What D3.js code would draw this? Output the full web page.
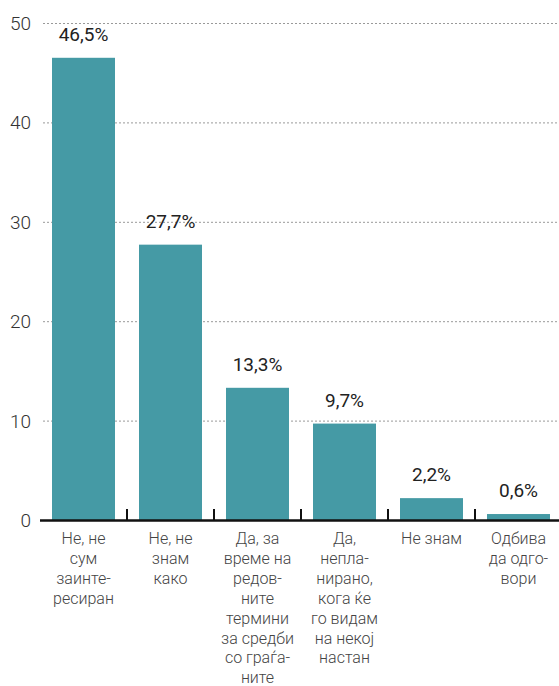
<!DOCTYPE html>
<html>
<head>
<meta charset="utf-8">
<script src="https://cdn.jsdelivr.net/npm/d3@7"></script>
<style>
  body { margin: 0; background: #fff; }
  svg { display: block; font-family: Roboto, sans-serif; }
</style>
</head>
<body>
<div id="chart"></div>
<script>
// data
const categories = [
  ['Не, не', 'сум', 'заинте-', 'ресиран'],
  ['Не, не', 'знам', 'како'],
  ['Да, за', 'време на', 'редов-', 'ните', 'термини', 'за средби', 'со граѓа-', 'ните'],
  ['Да,', 'непла-', 'нирано,', 'кога ќе', 'го видам', 'на некој', 'настан'],
  ['Не знам'],
  ['Одбива', 'да одго-', 'вори']
];
const values = [46.5, 27.7, 13.3, 9.7, 2.2, 0.6];
const valueLabels = ['46,5%', '27,7%', '13,3%', '9,7%', '2,2%', '0,6%'];
const yTicks = [0, 10, 20, 30, 40, 50];

const width = 559, height = 686;
const svg = d3.select('#chart').append('svg')
  .attr('width', width)
  .attr('height', height);

const x = d3.scaleBand()
  .domain(d3.range(values.length))
  .range([40, 562])
  .paddingInner(0.276)
  .paddingOuter(0.138);

const y = d3.scaleLinear()
  .domain([0, 50])
  .range([520, 23]);

// grid
svg.append('g')
  .selectAll('line')
  .data(yTicks.filter(d => d > 0))
  .join('line')
  .attr('x1', 43)
  .attr('x2', width)
  .attr('y1', d => y(d) + 0.5)
  .attr('y2', d => y(d) + 0.5)
  .attr('stroke', '#999')
  .attr('stroke-width', 1)
  .attr('stroke-dasharray', '2,2');

// y tick labels
svg.append('g')
  .selectAll('text')
  .data(yTicks)
  .join('text')
  .attr('x', 31)
  .attr('y', d => y(d) + 7)
  .attr('text-anchor', 'end')
  .attr('fill', '#333')
  .style('font-size', '19px')
  .style('font-weight', 300)
  .text(d => d);

// bars
svg.append('g')
  .selectAll('rect')
  .data(values)
  .join('rect')
  .attr('x', (d, i) => x(i))
  .attr('width', x.bandwidth())
  .attr('y', d => y(d))
  .attr('height', d => y(0) - y(d))
  .attr('fill', '#459aa5');

// value labels
svg.append('g')
  .selectAll('text')
  .data(values)
  .join('text')
  .attr('x', (d, i) => x(i) + x.bandwidth() / 2)
  .attr('y', d => y(d) - 17)
  .attr('text-anchor', 'middle')
  .attr('fill', '#222')
  .style('font-size', '19px')
  .text((d, i) => valueLabels[i]);

// baseline + separators
svg.append('line')
  .attr('x1', 40).attr('x2', width)
  .attr('y1', y(0) + 0.5).attr('y2', y(0) + 0.5)
  .attr('stroke', '#111')
  .attr('stroke-width', 2.5);

const step = x.step();
svg.append('g')
  .selectAll('line')
  .data(d3.range(1, values.length))
  .join('line')
  .attr('x1', i => x(i) - step * x.paddingInner() / 2)
  .attr('x2', i => x(i) - step * x.paddingInner() / 2)
  .attr('y1', y(0))
  .attr('y2', y(0) - 11)
  .attr('stroke', '#111')
  .attr('stroke-width', 2);

// category labels
const cat = svg.append('g')
  .selectAll('text')
  .data(categories)
  .join('text')
  .attr('text-anchor', 'middle')
  .attr('fill', '#444')
  .style('font-size', '16px')
  .style('font-weight', 300);

cat.selectAll('tspan')
  .data((lines, i) => lines.map(l => ({l, i})))
  .join('tspan')
  .attr('x', d => x(d.i) + x.bandwidth() / 2)
  .attr('y', (d, j) => 544 + j * 19.9)
  .text(d => d.l);
</script>
</body>
</html>
